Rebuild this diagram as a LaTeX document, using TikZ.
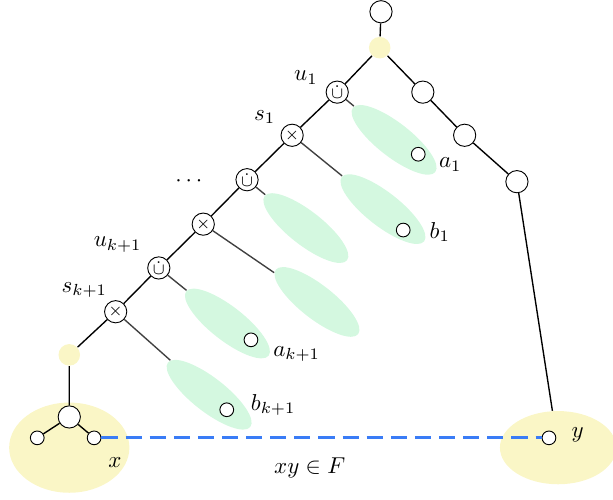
\documentclass[tikz,border=0pt]{standalone}
\usetikzlibrary{shapes.geometric}
\definecolor{cream}{RGB}{250,246,198}
\definecolor{mint}{RGB}{212,248,224}
\definecolor{azure}{RGB}{58,124,246}
\tikzset{
  vert/.style={circle,draw,fill=white,inner sep=0pt,minimum size=#1},
  vert/.default=3.4mm,
  leaf/.style={vert=2.1mm},
  op/.style={circle,draw,fill=white,inner sep=0pt,minimum size=3.4mm,font=\scriptsize},
  hub/.style={circle,fill=cream,inner sep=0pt,minimum size=3.3mm},
  blob/.style={ellipse,fill=mint,inner sep=0pt,minimum width=16mm,minimum height=5.2mm,rotate=-38},
  bag/.style={ellipse,fill=cream,inner sep=0pt},
  tag/.style={inner sep=1pt},
  spine/.style={semithick},
  twig/.style={semithick,black!75},
  link/.style={azure,line width=1.4pt,dash pattern=on 7pt off 3.5pt},
}
\begin{document}
\begin{tikzpicture}
  \useasboundingbox (0,0) rectangle (9.38,-7.65);
  % bags and blobs
  \node[bag,minimum width=18.4mm,minimum height=13.8mm] (bx) at (1.06,-6.85) {};
  \node[bag,minimum width=17.8mm,minimum height=11.2mm] (by) at (8.54,-6.85) {};
  \node[blob] (a1) at (6.03,-2.14) {};
  \node[blob] (b1) at (5.86,-3.20) {};
  \node[blob] (a2) at (4.68,-3.49) {};
  \node[blob] (b2) at (4.85,-4.62) {};
  \node[blob] (ak) at (3.48,-4.95) {};
  \node[blob] (bk) at (3.20,-6.04) {};
  % spine
  \node[vert] (top) at (5.83,-0.18) {};
  \node[hub] (h1) at (5.81,-0.73) {};
  \node[op] (u1) at (5.16,-1.41) {$\dot\cup$};
  \node[op] (s1) at (4.47,-2.07) {$\times$};
  \node[op] (u2) at (3.78,-2.75) {$\dot\cup$};
  \node[op] (s2) at (3.11,-3.43) {$\times$};
  \node[op] (uk) at (2.43,-4.10) {$\dot\cup$};
  \node[op] (sk) at (1.77,-4.77) {$\times$};
  \node[hub] (h2) at (1.06,-5.43) {};
  \node[vert] (xr) at (1.06,-6.38) {};
  \node[leaf] (xl) at (0.57,-6.70) {};
  \node[leaf] (xx) at (1.44,-6.70) {};
  % right branch
  \node[vert] (r1) at (6.47,-1.41) {};
  \node[vert] (r2) at (7.11,-2.07) {};
  \node[vert] (r3) at (7.91,-2.78) {};
  \node[leaf] (yy) at (8.40,-6.70) {};
  % leaves in blobs
  \node[leaf] (la1) at (6.40,-2.36) {};
  \node[leaf] (lb1) at (6.17,-3.52) {};
  \node[leaf] (lak) at (3.84,-5.20) {};
  \node[leaf] (lbk) at (3.47,-6.27) {};
  % labels
  \node[tag] (ta1) at (6.89,-2.52) {$a_1$};
  \node[tag] (tb1) at (6.73,-3.55) {$b_1$};
  \node[tag] (tak) at (4.54,-5.42) {$a_{k+1}$};
  \node[tag] (tbk) at (4.18,-6.20) {$b_{k+1}$};
  \node[tag] (tu1) at (4.68,-1.19) {$u_1$};
  \node[tag] (ts1) at (4.05,-1.79) {$s_1$};
  \node[tag] (tdots) at (2.89,-2.77) {$\cdots$};
  \node[tag] (tuk) at (1.80,-3.74) {$u_{k+1}$};
  \node[tag] (tsk) at (1.29,-4.44) {$s_{k+1}$};
  \node[tag] (tx) at (1.76,-7.08) {$x$};
  \node[tag] (ty) at (8.84,-6.66) {$y$};
  \node[tag] (tf) at (4.74,-7.16) {$xy\in F$};
  % edges
  \draw[spine] (top) -- (h1) -- (u1) -- (s1) -- (u2) -- (s2) -- (uk) -- (sk) -- (h2) -- (xr);
  \draw[spine] (xl) -- (xr) -- (xx);
  \draw[spine] (h1) -- (r1) -- (r2) -- (r3) -- (by);
  \draw[twig] (u1) -- (a1);
  \draw[twig] (s1) -- (b1);
  \draw[twig] (u2) -- (a2);
  \draw[twig] (s2) -- (b2);
  \draw[twig] (uk) -- (ak);
  \draw[twig] (sk) -- (bk);
  \draw[link] (xx) -- (yy);
\end{tikzpicture}
\end{document}
